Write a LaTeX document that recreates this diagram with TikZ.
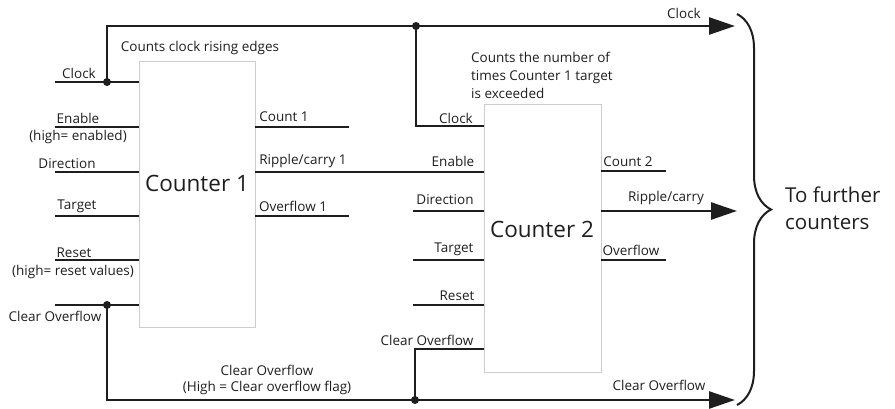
\documentclass[tikz,border=0pt]{standalone}
\usepackage{fontspec}
\setmainfont{Open Sans}
\usetikzlibrary{arrows.meta,positioning,decorations.pathreplacing}
\definecolor{inkgray}{RGB}{30,30,30}
\definecolor{boxgray}{RGB}{205,205,205}
\tikzset{
  counterbox/.style={draw=boxgray,line width=0.8pt,minimum width=116pt,minimum height=266pt,inner sep=0pt},
  countername/.style={font=\fontsize{22.5}{26}\selectfont,text=inkgray,inner sep=0pt},
  sig/.style={line width=1.7pt,draw=inkgray},
  bus/.style={line width=2.6pt,draw=inkgray},
  busarrow/.style={bus,-{Triangle[length=26pt,width=17pt]}},
  lbl/.style={font=\fontsize{13.5}{16}\selectfont,inner sep=0pt,text=inkgray},
  note/.style={lbl,align=left,anchor=west,font=\fontsize{13.5}{18}\selectfont},
  junction/.style={circle,fill=inkgray,inner sep=0pt,minimum size=8pt},
  bracedeco/.style={draw=inkgray,line width=2pt,decorate,decoration={brace,amplitude=34pt}}
}
\begin{document}
\begin{tikzpicture}[x=1pt,y=-1pt]
  \useasboundingbox (0,0) rectangle (895,409);
  \node[counterbox] (c1) at (197,194) {};
  \node[counterbox,minimum width=117pt,minimum height=268pt] (c2) at (542.5,238) {};
  \node[countername] (c1name) at (197,183) {Counter 1};
  \node[countername] (c2name) at (542,229) {Counter 2};

  \foreach \y/\n in {82/clk,127/en,172/dir,216/tgt,260/rst,305/clr}{
    \coordinate (c1\n) at (55,\y);
    \draw[sig] (c1\n) -- (c1.west |- c1\n);
  }
  \foreach \y/\n in {211/dir,260/tgt,305/rst}{
    \coordinate (c2\n) at (413,\y);
    \draw[sig] (c2\n) -- (c2.west |- c2\n);
  }
  \coordinate (cnt1) at (349,127);
  \coordinate (ovf1) at (349,216);
  \draw[sig] (c1.east |- cnt1) -- (cnt1);
  \draw[sig] (c1.east |- ovf1) -- (ovf1);
  \draw[sig] (c1.east |- 0,172) -- (c2.west |- 0,172);
  \coordinate (cnt2) at (666,171);
  \coordinate (ovf2) at (666,260);
  \coordinate (ripout) at (737,211);
  \draw[sig] (c2.east |- cnt2) -- (cnt2);
  \draw[sig] (c2.east |- ovf2) -- (ovf2);
  \draw[busarrow] (c2.east |- ripout) -- (ripout);

  \node[junction] (j1) at (107,82) {};
  \node[junction] (j2) at (416,26) {};
  \node[junction] (j3) at (107,305) {};
  \node[junction] (j4) at (415,400) {};
  \coordinate (clkout) at (735,26);
  \coordinate (clrout) at (735,400);
  \draw[busarrow] (j1.center) |- (clkout);
  \draw[bus] (j2.center) |- (c2.west |- 0,126);
  \draw[busarrow] (j3.center) |- (clrout);
  \draw[bus] (j4.center) |- (c2.west |- 0,349);

  \coordinate (bracetop) at (737,14);
  \coordinate (bracebot) at (737,405);
  \draw[bracedeco] (bracetop) -- (bracebot);
  \node[countername,align=left,anchor=west,font=\fontsize{20.5}{27}\selectfont] (further) at (785,208) {To further\\counters};

  \node[lbl] (l1clk) at (79,73) {Clock};
  \node[lbl] (l1en) at (78,118) {Enable};
  \node[lbl] (l1enx) at (78,137) {(high= enabled)};
  \node[lbl] (l1dir) at (67,164) {Direction};
  \node[lbl] (l1tgt) at (77,206) {Target};
  \node[lbl] (l1rst) at (74,253) {Reset};
  \node[lbl] (l1rstx) at (73,272) {(high= reset values)};
  \node[lbl] (l1clr) at (55,316) {Clear Overflow};
  \node[lbl] (l1note) at (200,48) {Counts clock rising edges};
  \node[lbl] (lcnt1) at (284,117) {Count 1};
  \node[lbl] (lrip1) at (303,161) {Ripple/carry 1};
  \node[lbl] (lovf1) at (293,206) {Overflow 1};
  \node[lbl] (lclr) at (267,370) {Clear Overflow};
  \node[lbl] (lclrx) at (267,388) {(High = Clear overflow flag)};

  \node[lbl] (l2clk) at (456,118) {Clock};
  \node[lbl] (l2en) at (453,161) {Enable};
  \node[lbl] (l2dir) at (445,200) {Direction};
  \node[lbl] (l2tgt) at (454,249) {Target};
  \node[lbl] (l2rst) at (457,296) {Reset};
  \node[lbl] (l2clr) at (427,340) {Clear Overflow};
  \node[note] (l2note) at (471,75) {Counts the number of\\times Counter 1 target\\is exceeded};
  \node[lbl] (lcnt2) at (628,162) {Count 2};
  \node[lbl] (lrip2) at (666,198) {Ripple/carry};
  \node[lbl] (lovf2) at (631,250) {Overflow};
  \node[lbl] (lclkout) at (684,13) {Clock};
  \node[lbl] (lclrout) at (659,385) {Clear Overflow};
\end{tikzpicture}
\end{document}
